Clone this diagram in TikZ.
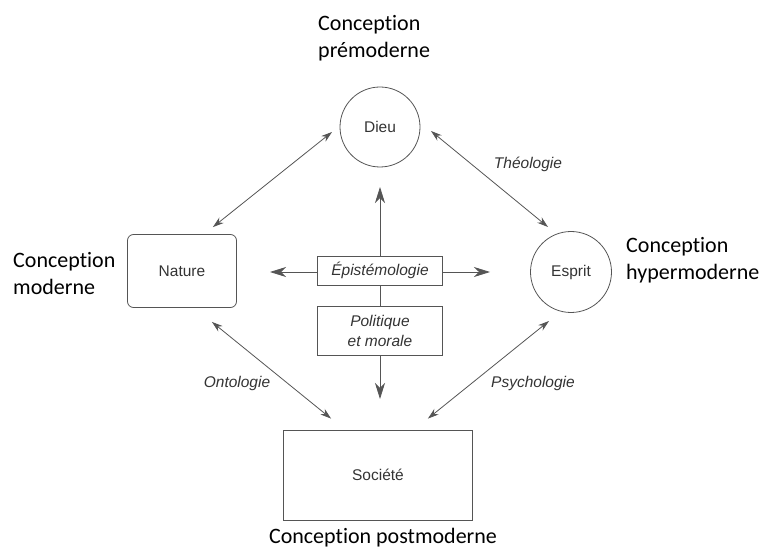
\documentclass[tikz,border=0pt]{standalone}
\usepackage{fontspec}
\setmainfont{Liberation Sans}
\newfontfamily\labelfont[Ligatures=NoCommon]{Carlito}
\usetikzlibrary{arrows.meta,calc}
\definecolor{ink}{HTML}{333333}
\definecolor{edge}{HTML}{555555}
\begin{document}
\begin{tikzpicture}[x=1pt,y=-1pt,
  concept/.style={font=\fontsize{15.5}{18}\selectfont, text=ink},
  relation/.style={font=\fontsize{15.5}{20}\selectfont\itshape, text=ink},
  era/.style={font=\labelfont\fontsize{22}{27}\selectfont, text=black, align=left, inner sep=0pt},
  roundnode/.style={concept, draw=edge, line width=0.8pt, circle, minimum size=80pt, inner sep=0pt},
  boxnode/.style={concept, draw=edge, line width=0.8pt, inner sep=0pt},
  framed/.style={relation, draw=edge, line width=0.8pt, inner sep=0pt, minimum width=125pt, align=center},
  link/.style={draw=edge, line width=0.8pt, {Stealth[length=11pt,width=7pt,fill=edge]}-{Stealth[length=11pt,width=7pt,fill=edge]}},
  axis/.style={draw=edge, line width=0.8pt, -{Stealth[length=16pt,width=10pt,inset=5pt,fill=edge]}},
  stem/.style={draw=edge, line width=0.8pt}]
  \useasboundingbox (0,0) rectangle (761,548);

  % the four poles
  \node[roundnode] (dieu) at (380,127) {Dieu};
  \node[roundnode, minimum size=81pt] (esprit) at (571,272) {Esprit};
  \node[boxnode, rounded corners=6pt, minimum width=109pt, minimum height=73pt] (nature) at (182,271) {Nature};
  \node[boxnode, minimum width=189pt, minimum height=90pt] (societe) at (378,475) {Société};

  % central boxes
  \node[framed, minimum height=29pt] (episteme) at (380,270.5) {Épistémologie};
  \node[framed, minimum height=49pt, text depth=0pt] (politique) at (380,330.5) {Politique\\et morale};

  % free ends of the central cross
  \coordinate (up) at (380,187);
  \coordinate (down) at (380,399);
  \coordinate (left) at (270,272);
  \coordinate (right) at (490,272);

  \draw[axis] (episteme.north) -- (up);
  \draw[stem] (episteme.south) -- (politique.north);
  \draw[axis] (politique.south) -- (down);
  \draw[axis] (episteme.west |- left) -- (left);
  \draw[axis] (episteme.east |- right) -- (right);

  % ends of the diagonal links
  \coordinate (dieuW) at ($(dieu.center)+(-48,5)$);
  \coordinate (dieuE) at ($(dieu.center)+(51,4)$);
  \coordinate (natureN) at ($(nature.north east)+(-24,-7)$);
  \coordinate (natureS) at ($(nature.south east)+(-25,14)$);
  \coordinate (espritN) at ($(esprit.center)+(-23,-45)$);
  \coordinate (espritS) at ($(esprit.center)+(-22,49)$);
  \coordinate (societeW) at ($(societe.north west)+(48,-11)$);
  \coordinate (societeE) at ($(societe.north east)+(-45,-11)$);

  \draw[link] (dieuW) -- (natureN);
  \draw[link] (dieuE) -- (espritN);
  \draw[link] (natureS) -- (societeW);
  \draw[link] (espritS) -- (societeE);

  % relation labels
  \node[relation] (theologie) at (528,164) {Théologie};
  \node[relation] (ontologie) at (237,383) {Ontologie};
  \node[relation] (psychologie) at (533,383) {Psychologie};

  % era captions
  \node[era, anchor=west] (premoderne) at (318,38) {Conception\\prémoderne};
  \node[era, anchor=west] (moderne) at (13,274) {Conception\\moderne};
  \node[era, anchor=west] (hypermoderne) at (626,260) {Conception\\hypermoderne};
  \node[era] (postmoderne) at (383,538) {Conception postmoderne};
\end{tikzpicture}
\end{document}
